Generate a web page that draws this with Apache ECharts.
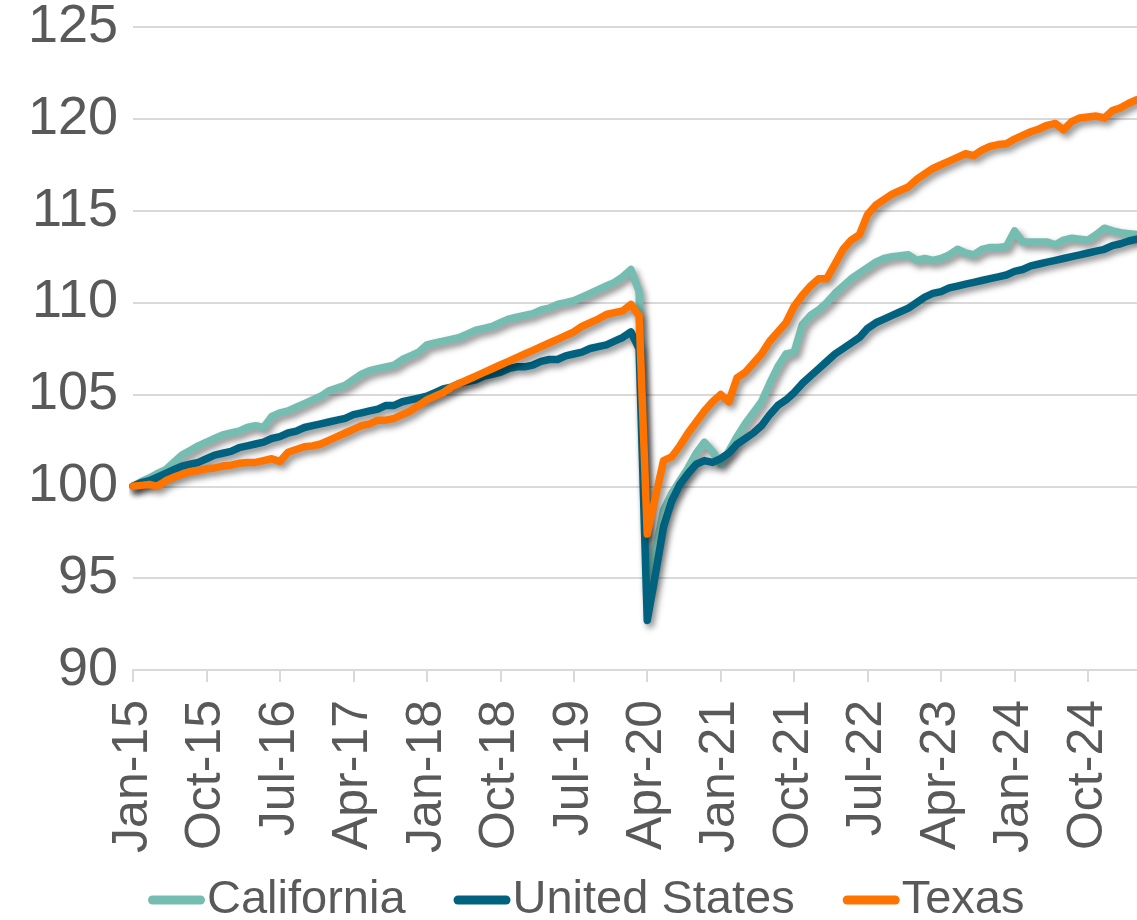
<!DOCTYPE html>
<html>
<head>
<meta charset="utf-8">
<title>Employment index</title>
<script src="https://cdn.jsdelivr.net/npm/echarts@6/dist/echarts.min.js"></script>
<style>
  html, body { margin: 0; padding: 0; background: #ffffff; }
  #chart { width: 1137px; height: 920px; }
</style>
</head>
<body>
<div id="chart"></div>
<script>
// Monthly employment index, Jan 2015 = 100, Jan-15 through Apr-25
const MONTHS = ['Jan', 'Feb', 'Mar', 'Apr', 'May', 'Jun', 'Jul', 'Aug', 'Sep', 'Oct', 'Nov', 'Dec'];
const YEARS = ['15', '16', '17', '18', '19', '20', '21', '22', '23', '24', '25'];
const LAST_YEAR_MONTHS = 4;

const Y_MIN = 90;
const Y_MAX = 125;
const Y_STEP = 5;

const californiaValues = [
  // 2015
  100.0, 100.25, 100.45, 100.7, 100.9, 101.3, 101.7, 101.95, 102.2, 102.4, 102.6, 102.8,
  // 2016
  102.9, 103.0, 103.2, 103.3, 103.2, 103.8, 104.0, 104.1, 104.3, 104.5, 104.7, 104.9,
  // 2017
  105.2, 105.35, 105.5, 105.8, 106.1, 106.3, 106.4, 106.5, 106.6, 106.9, 107.1, 107.3,
  // 2018
  107.7, 107.8, 107.9, 108.0, 108.1, 108.3, 108.5, 108.6, 108.7, 108.9, 109.1, 109.2,
  // 2019
  109.3, 109.4, 109.6, 109.7, 109.9, 110.0, 110.1, 110.3, 110.5, 110.7, 110.9, 111.1,
  // 2020
  111.4, 111.8, 110.6, 94.4, 96.5, 98.7, 99.6, 100.3, 101.0, 101.8, 102.4, 101.9,
  // 2021
  101.2, 101.9, 102.7, 103.4, 104.0, 104.6, 105.6, 106.5, 107.2, 107.3, 108.8, 109.3,
  // 2022
  109.6, 110.0, 110.5, 110.9, 111.3, 111.6, 111.9, 112.2, 112.4, 112.5, 112.55, 112.6,
  // 2023
  112.3, 112.4, 112.3, 112.4, 112.6, 112.9, 112.7, 112.6, 112.9, 113.0, 113.0, 113.05,
  // 2024
  113.9, 113.3, 113.3, 113.3, 113.3, 113.15, 113.4, 113.5, 113.45, 113.4, 113.7, 114.05,
  // 2025
  113.9, 113.8, 113.75, 113.7
];

const unitedStatesValues = [
  // 2015
  100.0, 100.2, 100.3, 100.5, 100.7, 100.9, 101.1, 101.2, 101.3, 101.5, 101.7, 101.8,
  // 2016
  101.9, 102.1, 102.2, 102.3, 102.4, 102.6, 102.7, 102.9, 103.0, 103.2, 103.3, 103.4,
  // 2017
  103.5, 103.6, 103.7, 103.9, 104.0, 104.1, 104.2, 104.4, 104.4, 104.6, 104.7, 104.8,
  // 2018
  104.9, 105.1, 105.3, 105.4, 105.6, 105.7, 105.8, 106.0, 106.1, 106.2, 106.4, 106.5,
  // 2019
  106.5, 106.6, 106.8, 106.9, 106.9, 107.1, 107.2, 107.3, 107.5, 107.6, 107.7, 107.9,
  // 2020
  108.1, 108.4, 107.5, 92.7, 95.2, 97.8, 99.2, 100.1, 100.7, 101.2, 101.4, 101.3,
  // 2021
  101.5, 101.8, 102.3, 102.6, 102.9, 103.3, 103.9, 104.4, 104.7, 105.1, 105.6, 106.0,
  // 2022
  106.4, 106.8, 107.2, 107.5, 107.8, 108.1, 108.6, 108.9, 109.1, 109.3, 109.5, 109.7,
  // 2023
  110.0, 110.3, 110.5, 110.6, 110.8, 110.9, 111.0, 111.1, 111.2, 111.3, 111.4, 111.5,
  // 2024
  111.7, 111.8, 112.0, 112.1, 112.2, 112.3, 112.4, 112.5, 112.6, 112.7, 112.8, 112.9,
  // 2025
  113.1, 113.2, 113.35, 113.45
];

const texasValues = [
  // 2015
  100.0, 100.05, 100.1, 100.0, 100.3, 100.5, 100.65, 100.8, 100.85, 100.95, 101.0, 101.1,
  // 2016
  101.15, 101.25, 101.3, 101.3, 101.4, 101.5, 101.35, 101.85, 102.0, 102.15, 102.2, 102.3,
  // 2017
  102.5, 102.7, 102.9, 103.1, 103.3, 103.4, 103.6, 103.6, 103.7, 103.9, 104.1, 104.4,
  // 2018
  104.7, 104.9, 105.1, 105.4, 105.6, 105.8, 106.0, 106.2, 106.4, 106.6, 106.8, 107.0,
  // 2019
  107.2, 107.4, 107.6, 107.8, 108.0, 108.2, 108.4, 108.7, 108.9, 109.1, 109.35, 109.45,
  // 2020
  109.55, 109.9, 109.3, 97.4, 99.4, 101.4, 101.6, 102.2, 102.9, 103.5, 104.1, 104.6,
  // 2021
  105.0, 104.6, 105.9, 106.2, 106.7, 107.2, 107.9, 108.4, 108.9, 109.8, 110.4, 110.9,
  // 2022
  111.3, 111.3, 112.1, 112.9, 113.4, 113.7, 114.8, 115.3, 115.6, 115.9, 116.1, 116.3,
  // 2023
  116.7, 117.0, 117.3, 117.5, 117.7, 117.9, 118.1, 118.0, 118.3, 118.5, 118.6, 118.65,
  // 2024
  118.9, 119.1, 119.3, 119.45, 119.65, 119.75, 119.4, 119.85, 120.05, 120.1, 120.15, 120.05,
  // 2025
  120.45, 120.6, 120.85, 121.05
];

// Category labels such as "Jan-15"
const categories = [];
YEARS.forEach((yy, yi) => {
  const count = yi === YEARS.length - 1 ? LAST_YEAR_MONTHS : MONTHS.length;
  for (let m = 0; m < count; m++) categories.push(MONTHS[m] + '-' + yy);
});

const FONT = '"Liberation Sans", Arial, Helvetica, sans-serif';
const TEXT_COLOR = '#595959';
const GRID_COLOR = '#D9D9D9';

const seriesDefs = [
  { name: 'California', color: '#76BDB1', data: californiaValues },
  { name: 'United States', color: '#00627F', data: unitedStatesValues },
  { name: 'Texas', color: '#FF7300', data: texasValues }
];

const chart = echarts.init(document.getElementById('chart'), null, { renderer: 'canvas' });

chart.setOption({
  animation: false,
  backgroundColor: '#ffffff',
  grid: { left: 133, right: 0, top: 27, bottom: 250, containLabel: false },
  legend: {
    left: 143,
    top: 870,
    itemWidth: 57,
    itemHeight: 9,
    itemGap: 48,
    icon: 'path://M4.5,0 L52.5,0 A4.5,4.5 0 0 1 52.5,9 L4.5,9 A4.5,4.5 0 0 1 4.5,0 Z',
    textStyle: { fontFamily: FONT, fontSize: 47, color: TEXT_COLOR, lineHeight: 50, padding: [0, 0, 0, -3] },
    data: seriesDefs.map(s => s.name)
  },
  xAxis: {
    type: 'category',
    data: categories,
    boundaryGap: false,
    axisLine: { show: true, lineStyle: { color: GRID_COLOR, width: 2 } },
    axisTick: { show: true, interval: 8, length: 12, lineStyle: { color: GRID_COLOR, width: 2 } },
    axisLabel: {
      interval: 8,
      rotate: 90,
      margin: 30,
      fontFamily: FONT,
      fontSize: 50,
      color: TEXT_COLOR
    },
    splitLine: { show: false }
  },
  yAxis: {
    type: 'value',
    min: Y_MIN,
    max: Y_MAX,
    interval: Y_STEP,
    axisLine: { show: false },
    axisTick: { show: false },
    axisLabel: { margin: 15, fontFamily: FONT, fontSize: 54, color: TEXT_COLOR },
    splitLine: { show: true, lineStyle: { color: GRID_COLOR, width: 2 } }
  },
  series: seriesDefs.map(s => ({
    name: s.name,
    type: 'line',
    data: s.data,
    showSymbol: false,
    symbol: 'none',
    smooth: false,
    clip: false,
    color: s.color,
    lineStyle: {
      color: s.color,
      width: 7.5,
      cap: 'round',
      join: 'round',
      shadowColor: 'rgba(0,0,0,0.45)',
      shadowBlur: 6,
      shadowOffsetX: 3,
      shadowOffsetY: 4
    },
    emphasis: { disabled: true }
  }))
});
</script>
</body>
</html>
